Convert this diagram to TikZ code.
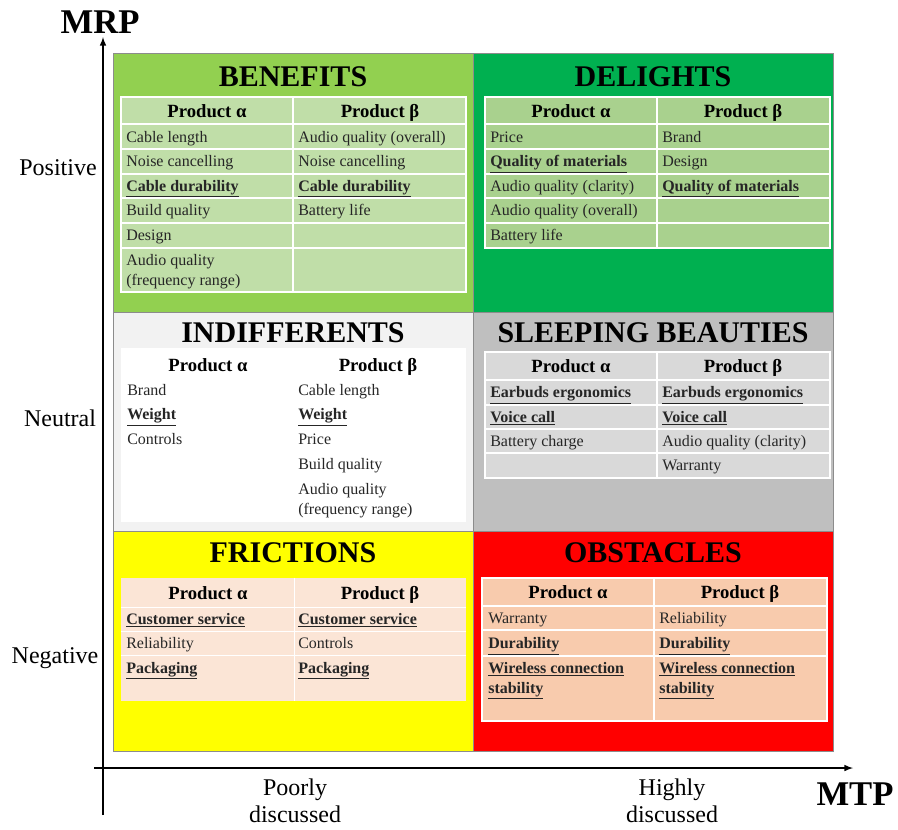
\documentclass[tikz,border=0pt]{standalone}
\usepackage{fontspec}
\setmainfont{Liberation Serif}
\definecolor{benbg}{HTML}{92D050}
\definecolor{bencell}{HTML}{C0DEA8}
\definecolor{delbg}{HTML}{00B050}
\definecolor{delcell}{HTML}{A9D18E}
\definecolor{indbg}{HTML}{F2F2F2}
\definecolor{slebg}{HTML}{BFBFBF}
\definecolor{slecell}{HTML}{D9D9D9}
\definecolor{fribg}{HTML}{FFFF00}
\definecolor{fricell}{HTML}{FBE5D6}
\definecolor{obsbg}{HTML}{FF0000}
\definecolor{obscell}{HTML}{F8CBAD}
\newcommand{\ub}[1]{\underline{\textbf{#1}}}
\begin{document}
\begin{tikzpicture}[x=0.75pt,y=-0.75pt]
   \tikzstyle{line} = [draw, line width=1.2pt, -latex]
   \tikzstyle{quad} = [draw=black!45, line width=0.6pt]
   \tikzstyle{grid} = [draw=white, line width=1.2pt]
   \tikzstyle{title} = [font=\fontsize{22.5}{26}\selectfont\bfseries]
   \tikzstyle{head} = [anchor=base, inner sep=0pt, font=\fontsize{14}{16}\selectfont\bfseries]
   \tikzstyle{item} = [anchor=base west, inner sep=0pt, align=left, font=\fontsize{12}{15}\selectfont, text=black!85]
   \tikzstyle{axis} = [font=\fontsize{18}{20}\selectfont, align=center]
   \tikzstyle{big} = [font=\fontsize{26}{28}\selectfont\bfseries]
   \useasboundingbox (0,0) rectangle (898,829);

   % quadrants
   \fill[benbg] (113,53) rectangle (473,312);
   \fill[delbg] (473,53) rectangle (833,312);
   \fill[indbg] (113,312) rectangle (473,531);
   \fill[slebg] (473,312) rectangle (833,531);
   \fill[fribg] (113,531) rectangle (473,751);
   \fill[obsbg] (473,531) rectangle (833,751);
   \draw[quad] (113,53) rectangle (833,751);
   \draw[quad] (473,53) -- (473,751);
   \draw[quad] (113,312) -- (833,312);
   \draw[quad] (113,531) -- (833,531);

   % axes
   \coordinate (ybot) at (103,815);
   \coordinate (ytop) at (103,37);
   \coordinate (xleft) at (94,768);
   \coordinate (xright) at (853,768);
   \path [line] (ybot) -- (ytop);
   \path [line] (xleft) -- (xright);
   \node[big] (mrp) at (100,22) {MRP};
   \node[big] (mtp) at (855,794) {MTP};
   \node[axis] (pos) at (58,168) {Positive};
   \node[axis] (neu) at (60,418) {Neutral};
   \node[axis] (neg) at (55,658) {Negative};
   \node[axis] (poor) at (295,801) {Poorly\\discussed};
   \node[axis] (high) at (672,801) {Highly\\discussed};

   % BENEFITS
   \node[title] (ben) at (293,77) {BENEFITS};
   \fill[bencell] (121,97) rectangle (466,292);
   \draw[grid] (121,97) rectangle (466,292);
   \draw[grid] (293,97) -- (293,292);
   \foreach \y in {124,149,174,198,223,248} \draw[grid] (121,\y) -- (466,\y);
   \node[head] (bena) at (207,117) {Product α};
   \node[head] (benb) at (380,117) {Product β};
   \node[item] (bena1) at (126,142) {Cable length};
   \node[item] (bena2) at (126,166.5) {Noise cancelling};
   \node[item] (bena3) at (126,191) {\ub{Cable durability}};
   \node[item] (bena4) at (126,215.5) {Build quality};
   \node[item] (bena5) at (126,240.5) {Design};
   \node[item] (bena6) at (126,285) {Audio quality\\(frequency range)};
   \node[item] (benb1) at (298,142) {Audio quality (overall)};
   \node[item] (benb2) at (298,166.5) {Noise cancelling};
   \node[item] (benb3) at (298,191) {\ub{Cable durability}};
   \node[item] (benb4) at (298,215.5) {Battery life};

   % DELIGHTS
   \node[title] (del) at (653,77) {DELIGHTS};
   \fill[delcell] (485,97) rectangle (830,248);
   \draw[grid] (485,97) rectangle (830,248);
   \draw[grid] (657,97) -- (657,248);
   \foreach \y in {124,149,174,198,223} \draw[grid] (485,\y) -- (830,\y);
   \node[head] (dela) at (571,117) {Product α};
   \node[head] (delb) at (743,117) {Product β};
   \node[item] (dela1) at (490,142) {Price};
   \node[item] (dela2) at (490,166.5) {\ub{Quality of materials}};
   \node[item] (dela3) at (490,191) {Audio quality (clarity)};
   \node[item] (dela4) at (490,215.5) {Audio quality (overall)};
   \node[item] (dela5) at (490,240.5) {Battery life};
   \node[item] (delb1) at (662,142) {Brand};
   \node[item] (delb2) at (662,166.5) {Design};
   \node[item] (delb3) at (662,191) {\ub{Quality of materials}};

   % INDIFFERENTS
   \node[title] (ind) at (293,333) {INDIFFERENTS};
   \fill[white] (121,348) rectangle (466,522);
   \node[head] (inda) at (208,371) {Product α};
   \node[head] (indb) at (378,371) {Product β};
   \node[item] (inda1) at (127,395) {Brand};
   \node[item] (inda2) at (127,419.5) {\ub{Weight}};
   \node[item] (inda3) at (127,444) {Controls};
   \node[item] (indb1) at (298,395) {Cable length};
   \node[item] (indb2) at (298,419.5) {\ub{Weight}};
   \node[item] (indb3) at (298,444) {Price};
   \node[item] (indb4) at (298,469) {Build quality};
   \node[item] (indb5) at (298,514) {Audio quality\\(frequency range)};

   % SLEEPING BEAUTIES
   \node[title] (sle) at (653,333) {SLEEPING BEAUTIES};
   \fill[slecell] (485,352) rectangle (830,478);
   \draw[grid] (485,352) rectangle (830,478);
   \draw[grid] (657,352) -- (657,478);
   \foreach \y in {380,405,429,453} \draw[grid] (485,\y) -- (830,\y);
   \node[head] (slea) at (571,372) {Product α};
   \node[head] (sleb) at (743,372) {Product β};
   \node[item] (slea1) at (490,397.5) {\ub{Earbuds ergonomics}};
   \node[item] (slea2) at (490,422) {\ub{Voice call}};
   \node[item] (slea3) at (490,446) {Battery charge};
   \node[item] (sleb1) at (662,397.5) {\ub{Earbuds ergonomics}};
   \node[item] (sleb2) at (662,422) {\ub{Voice call}};
   \node[item] (sleb3) at (662,446) {Audio quality (clarity)};
   \node[item] (sleb4) at (662,470.5) {Warranty};

   % FRICTIONS
   \node[title] (fri) at (293,553) {FRICTIONS};
   \fill[fricell] (121,578) rectangle (466,701);
   \draw[white, line width=0.6pt] (294,578) -- (294,701);
   \foreach \y in {607,631,655} \draw[white, line width=0.6pt] (121,\y) -- (466,\y);
   \node[head] (fria) at (208,599) {Product α};
   \node[head] (frib) at (380,599) {Product β};
   \node[item] (fria1) at (126,624) {\ub{Customer service}};
   \node[item] (fria2) at (126,648.5) {Reliability};
   \node[item] (fria3) at (126,673) {\ub{Packaging}};
   \node[item] (frib1) at (298,624) {\ub{Customer service}};
   \node[item] (frib2) at (298,648.5) {Controls};
   \node[item] (frib3) at (298,673) {\ub{Packaging}};

   % OBSTACLES
   \node[title] (obs) at (653,553) {OBSTACLES};
   \fill[obscell] (482,578) rectangle (827,721);
   \draw[grid] (482,578) rectangle (827,721);
   \draw[grid] (654,578) -- (654,721);
   \foreach \y in {606,630,656} \draw[grid] (482,\y) -- (827,\y);
   \node[head] (obsa) at (568,598) {Product α};
   \node[head] (obsb) at (740,598) {Product β};
   \node[item] (obsa1) at (488,623.5) {Warranty};
   \node[item] (obsa2) at (488,648.5) {\ub{Durability}};
   \node[item] (obsa3) at (488,693) {\ub{Wireless connection}\\\ub{stability}};
   \node[item] (obsb1) at (659,623.5) {Reliability};
   \node[item] (obsb2) at (659,648.5) {\ub{Durability}};
   \node[item] (obsb3) at (659,693) {\ub{Wireless connection}\\\ub{stability}};
\end{tikzpicture}
\end{document}
